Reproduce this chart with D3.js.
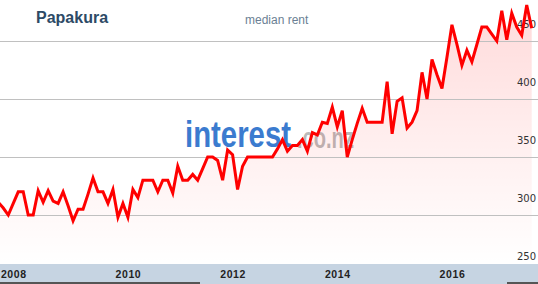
<!DOCTYPE html>
<html>
<head>
<meta charset="utf-8">
<script src="https://cdn.jsdelivr.net/npm/d3@7"></script>
<style>
  html, body { margin: 0; padding: 0; background: #fff; }
  svg { display: block; }
</style>
</head>
<body>
<div id="chart"></div>
<script>
// ---- data ----
const title = "Papakura";
const subtitle = "median rent";
const rent = [311, 306, 300, 310, 320, 320, 300, 300, 321, 311, 321, 312, 310, 320, 308, 295,
  305, 305, 318, 332, 320, 320, 310, 322, 298, 310, 298, 322, 315, 330, 330, 330,
  320, 330, 330, 319, 342, 330, 330, 335, 330, 340, 350, 350, 347, 330, 356, 352,
  322, 342, 350, 350, 350, 350, 350, 350, 357, 365, 355, 360, 360, 365, 355, 371,
  369, 380, 379, 393, 376, 390, 350, 365, 379, 392, 380, 380, 380, 380, 415, 370,
  398, 401, 375, 380, 390, 423, 400, 434, 421, 409, 436, 464, 447, 429, 442, 432,
  447, 462, 462, 456, 450, 476, 451, 474, 462, 455, 481, 461];
const yearLabels = ["2008", "2010", "2012", "2014", "2016"];
const yearIndex = [3, 26, 47, 68, 91];   // index of the data point where each year label sits
const yTicks = [250, 300, 350, 400, 450];

// ---- layout ----
const W = 538, H = 284;
const bandTop = 264;

const svg = d3.select("#chart").append("svg")
  .attr("width", W).attr("height", H);

const x = d3.scaleLinear().domain([0, rent.length - 1]).range([-1.7, 531.7]);
const y = d3.scaleLinear().domain([250, 450]).range([273, 41]);

// gradient
const defs = svg.append("defs");
const grad = defs.append("linearGradient").attr("id", "fillGrad")
  .attr("gradientUnits", "userSpaceOnUse")
  .attr("x1", 0).attr("y1", 0).attr("x2", 0).attr("y2", bandTop);
grad.append("stop").attr("offset", 0).attr("stop-color", "#ff0000").attr("stop-opacity", 0.15);
grad.append("stop").attr("offset", 0.5).attr("stop-color", "#ff0000").attr("stop-opacity", 0.07);
grad.append("stop").attr("offset", 1).attr("stop-color", "#ff0000").attr("stop-opacity", 0.0);

// watermark (condensed via horizontal scaling)
function condensed(txt, left, base, size, width, fill, op) {
  const g = svg.append("g");
  const t = g.append("text").attr("x", 0).attr("y", 0)
    .attr("font-family", "Liberation Sans, Arial, sans-serif")
    .attr("font-weight", "bold").attr("font-size", size)
    .attr("fill", fill).attr("fill-opacity", op).text(txt);
  const natural = t.node().getComputedTextLength() || width;
  g.attr("transform", `translate(${left},${base}) scale(${width / natural},1)`);
}
condensed("interest", 185, 147, 36, 106, "#3b7bcf", 1);
condensed(".co.nz", 297, 148, 30, 57, "#8c8c8c", 0.6);

// area
const area = d3.area().x((d, i) => x(i)).y0(bandTop).y1(d => y(d));
svg.append("path").datum(rent).attr("d", area).attr("fill", "url(#fillGrad)");

// grid
svg.append("g").selectAll("line").data(yTicks).join("line")
  .attr("x1", 0).attr("x2", W)
  .attr("y1", d => Math.round(y(d)) + 0.5).attr("y2", d => Math.round(y(d)) + 0.5)
  .attr("stroke", "#c0c0c0").attr("stroke-width", 1);

// y labels
svg.append("g").selectAll("text").data(yTicks).join("text")
  .attr("x", 536).attr("y", d => y(d) - 13)
  .attr("text-anchor", "end")
  .attr("font-family", "DejaVu Sans, Verdana, sans-serif")
  .attr("font-size", 10).attr("fill", "#333")
  .text(d => d);

// line
const line = d3.line().x((d, i) => x(i)).y(d => y(d));
svg.append("path").datum(rent).attr("d", line)
  .attr("fill", "none").attr("stroke", "#ff0000").attr("stroke-width", 3)
  .attr("stroke-linejoin", "miter");

// x axis band
svg.append("rect").attr("x", 0).attr("y", bandTop).attr("width", W).attr("height", H - bandTop)
  .attr("fill", "#c6d4e2");
svg.append("rect").attr("x", 0).attr("y", 282).attr("width", 200).attr("height", 2).attr("fill", "#555");
svg.append("rect").attr("x", 507).attr("y", 282).attr("width", 31).attr("height", 2).attr("fill", "#555");

const xAxis = d3.axisBottom(x).tickValues(yearIndex)
  .tickFormat((d, i) => yearLabels[i]).tickSize(0).tickPadding(0);
const gx = svg.append("g").attr("transform", `translate(0,${bandTop})`).call(xAxis);
gx.select(".domain").remove();
gx.selectAll("text")
  .attr("y", 13.5).attr("dy", null)
  .attr("font-family", "Liberation Sans, Arial, sans-serif")
  .attr("font-weight", "bold").attr("font-size", 10.5)
  .attr("letter-spacing", 0.6)
  .attr("fill", "#222");

// titles
svg.append("text").attr("x", 36).attr("y", 23)
  .attr("font-family", "Liberation Sans, Arial, sans-serif")
  .attr("font-weight", "bold").attr("font-size", 16).attr("fill", "#2d4a66")
  .text(title);
svg.append("text").attr("x", 245).attr("y", 24)
  .attr("font-family", "Liberation Sans, Arial, sans-serif")
  .attr("font-size", 12).attr("fill", "#6b7f94")
  .text(subtitle);
</script>
</body>
</html>
